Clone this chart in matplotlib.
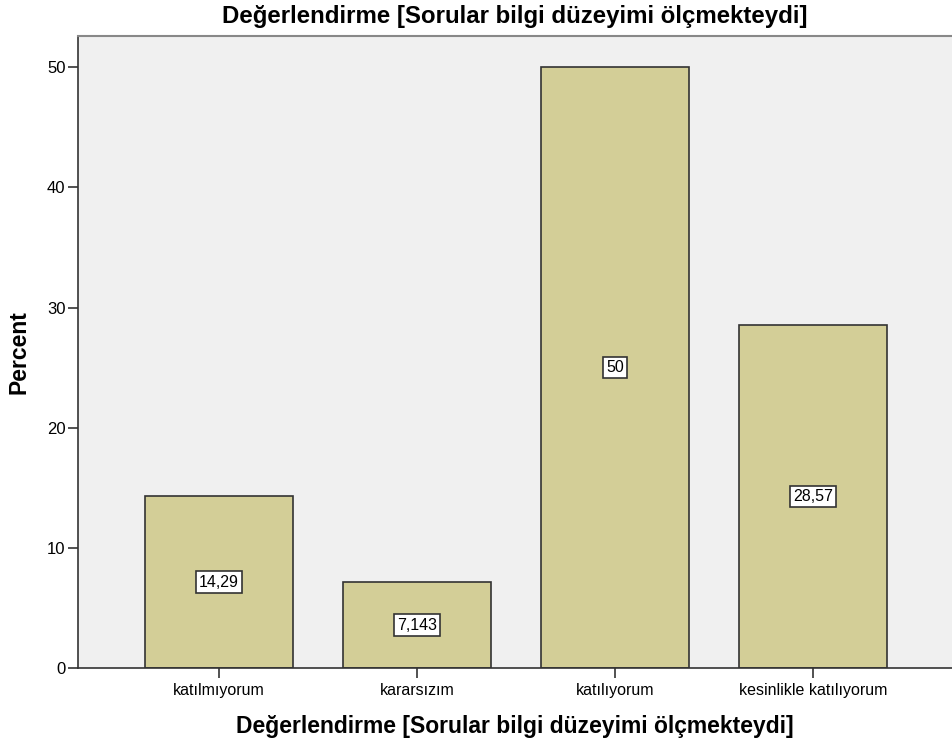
import matplotlib.pyplot as plt

plt.rcParams["font.family"] = ["Liberation Sans", "DejaVu Sans"]

categories = ["katılmıyorum", "kararsızım", "katılıyorum", "kesinlikle katılıyorum"]
percents = [14.29, 7.143, 50, 28.57]
value_labels = ["14,29", "7,143", "50", "28,57"]
y_ticks = [0, 10, 20, 30, 40, 50]

title = "Değerlendirme [Sorular bilgi düzeyimi ölçmekteydi]"

fig = plt.figure(figsize=(9.52, 7.47), dpi=100)
ax = fig.add_axes([78 / 952, 79 / 747, 874 / 952, 632 / 747])
ax.set_facecolor("#F0F0F0")

x = list(range(len(categories)))
ax.bar(x, percents, width=0.747, color="#D3CE97", edgecolor="#333333", linewidth=1.2, zorder=2)

for xi, value, label in zip(x, percents, value_labels):
    ax.text(xi, value / 2, label, ha="center", va="center", fontsize=11.5, zorder=3,
            bbox=dict(boxstyle="square,pad=0.2", facecolor="white", edgecolor="#333333", linewidth=1.2))

ax.set_xlim(-0.712, 3.702)
ax.set_ylim(0, 52.6)
ax.set_xticks(x)
ax.set_xticklabels(categories, fontsize=11.5)
ax.set_yticks(y_ticks)
ax.set_yticklabels([str(t) for t in y_ticks], fontsize=12)
ax.tick_params(axis="x", length=7, width=1.2, color="#333333", pad=4)
ax.tick_params(axis="y", length=7, width=1.2, color="#333333", pad=2)

for side in ("left", "bottom"):
    ax.spines[side].set_color("#333333")
    ax.spines[side].set_linewidth(1.2)
ax.spines["top"].set_color("#888888")
ax.spines["top"].set_linewidth(1.5)
ax.spines["right"].set_visible(False)

ax.set_ylabel("Percent", fontsize=16.5, fontweight="bold", labelpad=12)
ax.set_xlabel(title, fontsize=16.5, fontweight="bold", labelpad=12)
ax.set_title(title, fontsize=17.3, fontweight="bold", pad=9)

fig.savefig("out.png", dpi=100)
